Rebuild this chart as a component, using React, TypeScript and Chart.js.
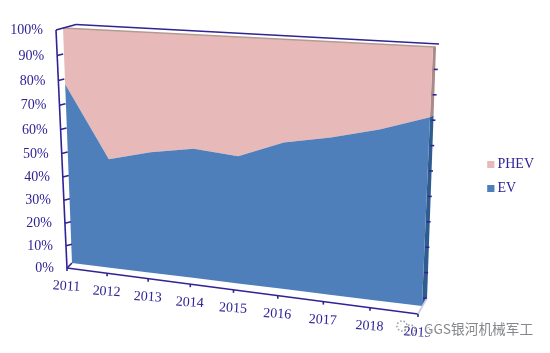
import React, { useEffect, useRef } from "react";
import { Chart, registerables } from "chart.js";

Chart.register(...registerables);

const years = ["2011", "2012", "2013", "2014", "2015", "2016", "2017", "2018", "2019"];
const evShare = [77, 47, 51.5, 54.5, 53, 60, 63.5, 68, 74];
const phevShare = [23, 53, 48.5, 45.5, 47, 40, 36.5, 32, 26];
const baseline = [0, 0, 0, 0, 0, 0, 0, 0, 0];
const yTicks = [0, 10, 20, 30, 40, 50, 60, 70, 80, 90, 100];
const watermark = "GGS银河机械军工";

const INK = "#2f2396";
const EV_COLOR = "#4e7fbb";
const PHEV_COLOR = "#e8b9b9";
const SERIF = '"Liberation Serif", serif';

type P = [number, number];

// Perspective map of the unit square (u across, t down) onto a quad: TL, TR, BR, BL.
function perspective(q: P[]) {
  const [[x0, y0], [x1, y1], [x2, y2], [x3, y3]] = q;
  const dx1 = x1 - x2, dx2 = x3 - x2, sx = x0 - x1 + x2 - x3;
  const dy1 = y1 - y2, dy2 = y3 - y2, sy = y0 - y1 + y2 - y3;
  const det = dx1 * dy2 - dx2 * dy1;
  const g = (sx * dy2 - dx2 * sy) / det;
  const h = (dx1 * sy - sx * dy1) / det;
  const a = x1 - x0 + g * x1, b = x3 - x0 + h * x3;
  const d = y1 - y0 + g * y1, e = y3 - y0 + h * y3;
  return (u: number, t: number): P => {
    const w = g * u + h * t + 1;
    return [(a * u + b * t + x0) / w, (d * u + e * t + y0) / w];
  };
}

const areaPlane = perspective([[63, 28], [433, 47], [422, 306], [72, 263]]);
const axisPlane = perspective([[56, 30], [436, 52], [418, 314], [67, 268]]);

const lerp = (a: number, b: number, k: number) => a + (b - a) * k;

const projectionPlugin = {
  id: "projection",
  afterDatasetsUpdate(chart: any) {
    const { left, top, width, height } = chart.chartArea;
    chart.data.datasets.forEach((_: any, i: number) => {
      chart.getDatasetMeta(i).data.forEach((el: any) => {
        const [x, y] = areaPlane((el.x - left) / width, (el.y - top) / height);
        el.x = x;
        el.y = y;
      });
    });
  },
  beforeDatasetsDraw(chart: any) {
    const ctx = chart.ctx as CanvasRenderingContext2D;
    const pts = (i: number) => chart.getDatasetMeta(i).data as any[];
    const [base, ev, top] = [pts(0), pts(1), pts(2)];
    const band = (lower: any[], upper: any[], color: string) => {
      ctx.beginPath();
      upper.forEach((p, i) => (i ? ctx.lineTo(p.x, p.y) : ctx.moveTo(p.x, p.y)));
      [...lower].reverse().forEach((p) => ctx.lineTo(p.x, p.y));
      ctx.closePath();
      ctx.fillStyle = color;
      ctx.fill();
    };

    // extruded right-hand side of the area
    const depth = (p: any): P => {
      const k = (p.y - top[8].y) / (base[8].y - top[8].y);
      return [p.x + lerp(3, 5, k), p.y + lerp(0, -7, k)];
    };
    const side = (a: any, b: any, color: string) => {
      const da = depth(a), db = depth(b);
      ctx.beginPath();
      ctx.moveTo(a.x, a.y);
      ctx.lineTo(da[0], da[1]);
      ctx.lineTo(db[0], db[1]);
      ctx.lineTo(b.x, b.y);
      ctx.closePath();
      ctx.fillStyle = color;
      ctx.fill();
    };
    side(top[8], ev[8], "#a98a88");
    side(ev[8], base[8], "#2f5c8f");

    band(ev, top, PHEV_COLOR);
    band(base, ev, EV_COLOR);

    // thin top face of the area
    ctx.beginPath();
    ctx.moveTo(top[0].x, top[0].y);
    ctx.lineTo(top[8].x + 3, top[8].y);
    ctx.strokeStyle = "#b59a90";
    ctx.lineWidth = 1.5;
    ctx.stroke();
  },
  afterDatasetsDraw(chart: any) {
    const ctx = chart.ctx as CanvasRenderingContext2D;
    const x = chart.scales.x, y = chart.scales.y;
    const { left, top, width, height } = chart.chartArea;
    const U = (i: number) => (x.getPixelForValue(i) - left) / width;
    const T = (v: number) => (y.getPixelForValue(v) - top) / height;

    ctx.save();
    ctx.strokeStyle = INK;
    ctx.lineWidth = 1.6;
    const line = (a: P, b: P) => {
      ctx.beginPath();
      ctx.moveTo(a[0], a[1]);
      ctx.lineTo(b[0], b[1]);
      ctx.stroke();
    };

    // walls and axes
    line([56, 30], [76, 24.5]);
    line([76, 24.5], [439, 44]);
    line(axisPlane(0, 0), axisPlane(0, 1));
    line(axisPlane(0, 1), axisPlane(1, 1));
    line(axisPlane(0, 1), [72, 263]);
    ctx.strokeStyle = "#c9cbe2";
    line(axisPlane(1, 1), [427, 298]);
    ctx.strokeStyle = INK;

    ctx.font = `14px ${SERIF}`;
    ctx.fillStyle = INK;

    // value axis ticks and labels
    ctx.textAlign = "right";
    ctx.textBaseline = "middle";
    yTicks.forEach((v) => {
      const t = T(v);
      const [ax, ay] = axisPlane(0, t);
      if (v > 0 && v < 100) line([ax, ay], [ax + 6, ay - 1.5]);
      ctx.fillText(`${v}%`, ax - 13, ay + 0.5);
      if (v < 100) {
        const ry = lerp(44, 298, t);
        const rx = lerp(439, 427, t);
        line([rx - 4, ry], [rx, ry]);
      }
    });

    // category axis ticks and labels
    ctx.textAlign = "center";
    years.forEach((label, i) => {
      const [ax, ay] = axisPlane(U(i), 1);
      line([ax, ay], [ax, ay + 3]);
      ctx.save();
      ctx.translate(ax - 0.5, ay + 18.5);
      ctx.rotate((3.5 * Math.PI) / 180);
      ctx.fillText(label, 0, 0);
      ctx.restore();
    });
    ctx.restore();
  },
  afterDraw(chart: any) {
    const ctx = chart.ctx as CanvasRenderingContext2D;
    ctx.save();
    // widen the legend swatches to their square size
    chart.legend.legendHitBoxes.forEach((box: any, i: number) => {
      const item = chart.legend.legendItems[i];
      ctx.fillStyle = item.fillStyle;
      ctx.fillRect(box.left, box.top + (box.height - 7) / 2, 7, 7);
    });

    // watermark with its chat-bubble mark
    ctx.strokeStyle = "#9a9a9a";
    ctx.lineWidth = 1.5;
    ctx.setLineDash([1.5, 2]);
    ctx.beginPath();
    ctx.arc(402, 326, 5, 0, Math.PI * 2);
    ctx.stroke();
    ctx.beginPath();
    ctx.arc(410, 330, 5, 0, Math.PI * 2);
    ctx.stroke();
    ctx.setLineDash([]);

    ctx.font = '13.7px "Noto Sans CJK SC", "Noto Sans", sans-serif';
    ctx.textAlign = "left";
    ctx.textBaseline = "middle";
    ctx.lineWidth = 2.5;
    ctx.strokeStyle = "rgba(255,255,255,0.85)";
    ctx.strokeText(watermark, 424, 329);
    ctx.fillStyle = "#85878a";
    ctx.fillText(watermark, 424, 329);
    ctx.restore();
  },
};

export default function App() {
  const ref = useRef<HTMLCanvasElement>(null);

  useEffect(() => {
    document.body.style.margin = "0";
    const chart = new Chart(ref.current!, {
      type: "line",
      data: {
        labels: years,
        datasets: [
          { label: "", data: baseline, borderWidth: 0, pointRadius: 0, backgroundColor: "transparent", tension: 0, clip: false },
          { label: "EV", data: evShare, borderWidth: 0, pointRadius: 0, backgroundColor: EV_COLOR, tension: 0, clip: false },
          { label: "PHEV", data: phevShare, borderWidth: 0, pointRadius: 0, backgroundColor: PHEV_COLOR, tension: 0, clip: false },
        ],
      },
      options: {
        responsive: false,
        animation: false,
        layout: { padding: { right: 6 } },
        scales: {
          x: { display: false },
          y: { display: false, stacked: true, min: 0, max: 100 },
        },
        plugins: {
          tooltip: { enabled: false },
          legend: {
            position: "right",
            reverse: true,
            labels: {
              boxWidth: 3,
              boxHeight: 7,
              padding: 10,
              color: INK,
              font: { family: "Liberation Serif", size: 14 },
              filter: (item: any) => item.text !== "",
            },
          },
        },
      },
      plugins: [projectionPlugin],
    } as any);
    return () => chart.destroy();
  }, []);

  return (
    <div style={{ position: "absolute", left: 0, top: 0, width: 550, height: 353, background: "#fff" }}>
      <canvas ref={ref} width={550} height={353} style={{ display: "block" }} />
    </div>
  );
}
